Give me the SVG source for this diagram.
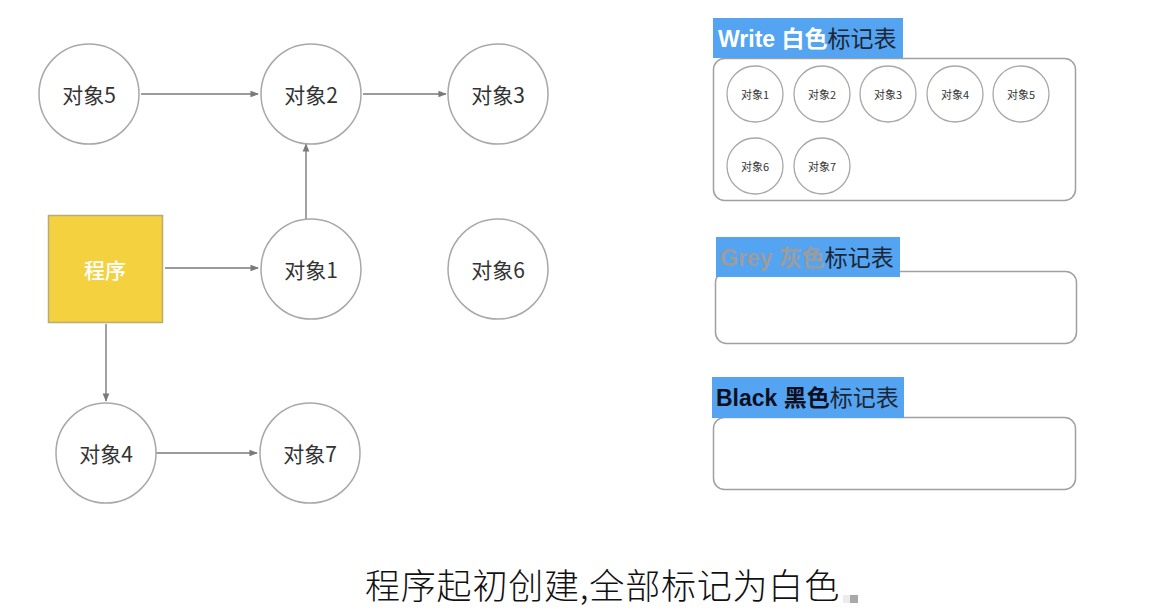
<svg xmlns="http://www.w3.org/2000/svg" width="1156" height="613" viewBox="0 0 1156 613">
  <style>
    .node circle { fill: #ffffff; stroke: #a8a8a8; stroke-width: 1.5; }
    .lbl { font-family: "Noto Sans CJK SC", "Liberation Sans", sans-serif; font-size: 21px; fill: #333333; text-anchor: middle; dominant-baseline: central; }
    .small circle { fill: #ffffff; stroke: #a8a8a8; stroke-width: 1.3; }
    .slbl { font-family: "Noto Sans CJK SC", "Liberation Sans", sans-serif; font-size: 11px; fill: #333333; text-anchor: middle; dominant-baseline: central; }
    .edge { stroke: #7a7a7a; stroke-width: 1.4; fill: none; marker-end: url(#arrow); }
    .table { fill: #ffffff; stroke: #a0a0a0; stroke-width: 1.5; }
    .tag { fill: #55a4f2; }
    .tagtxt { font-family: "Liberation Sans", "Noto Sans CJK SC", sans-serif; font-size: 23px; }
    .b { font-weight: bold; }
    .rest { fill: #1c2635; font-family: "Noto Sans CJK SC", sans-serif; font-weight: normal; }
  </style>
  <defs>
    <marker id="arrow" viewBox="0 0 10 10" refX="9" refY="5" markerWidth="6" markerHeight="6" orient="auto">
      <path d="M0,1 L10,5 L0,9 z" fill="#7a7a7a"/>
    </marker>
  </defs>

  <rect width="1156" height="613" fill="#ffffff"/>

  <!-- connectors -->
  <g id="edges">
    <line class="edge" x1="141" y1="94" x2="258" y2="94"/>
    <line class="edge" x1="363" y1="94" x2="446" y2="94"/>
    <line class="edge" x1="306" y1="219" x2="306" y2="144"/>
    <line class="edge" x1="165" y1="268" x2="258" y2="268"/>
    <line class="edge" x1="106" y1="324" x2="106" y2="401"/>
    <line class="edge" x1="156" y1="453" x2="257" y2="453"/>
  </g>

  <!-- program root -->
  <g id="program">
    <rect x="48.5" y="215.5" width="114" height="107" fill="#f3d13f" stroke="#b9ab72" stroke-width="1.5"/>
    <text x="105" y="269" font-family="Noto Sans CJK SC, sans-serif" font-size="21" font-weight="500" fill="#ffffff" text-anchor="middle" dominant-baseline="central">程序</text>
  </g>

  <!-- objects -->
  <g id="obj5" class="node"><circle cx="89" cy="94" r="50"/><text class="lbl" x="89" y="94">对象5</text></g>
  <g id="obj2" class="node"><circle cx="311" cy="94" r="50"/><text class="lbl" x="311" y="94">对象2</text></g>
  <g id="obj3" class="node"><circle cx="498" cy="94" r="50"/><text class="lbl" x="498" y="94">对象3</text></g>
  <g id="obj1" class="node"><circle cx="311" cy="269" r="50"/><text class="lbl" x="311" y="269">对象1</text></g>
  <g id="obj6" class="node"><circle cx="498" cy="269" r="50"/><text class="lbl" x="498" y="269">对象6</text></g>
  <g id="obj4" class="node"><circle cx="106" cy="453" r="50"/><text class="lbl" x="106" y="453">对象4</text></g>
  <g id="obj7" class="node"><circle cx="310" cy="453" r="50"/><text class="lbl" x="310" y="453">对象7</text></g>

  <!-- white table -->
  <g id="white-table">
    <rect class="table" x="713.5" y="58.5" width="362" height="142" rx="11"/>
    <rect class="tag" x="713" y="18" width="190" height="40"/>
    <text class="tagtxt" x="718" y="47"><tspan class="b" fill="#ffffff">Write 白色</tspan><tspan class="rest">标记表</tspan></text>
    <g class="small">
      <circle cx="755" cy="94" r="28"/><text class="slbl" x="755" y="94">对象1</text>
      <circle cx="822" cy="94" r="28"/><text class="slbl" x="822" y="94">对象2</text>
      <circle cx="888" cy="94" r="28"/><text class="slbl" x="888" y="94">对象3</text>
      <circle cx="955" cy="94" r="28"/><text class="slbl" x="955" y="94">对象4</text>
      <circle cx="1021" cy="94" r="28"/><text class="slbl" x="1021" y="94">对象5</text>
      <circle cx="755" cy="166" r="28"/><text class="slbl" x="755" y="166">对象6</text>
      <circle cx="822" cy="166" r="28"/><text class="slbl" x="822" y="166">对象7</text>
    </g>
  </g>

  <!-- grey table -->
  <g id="grey-table">
    <rect class="table" x="715.5" y="271.5" width="361" height="72" rx="11"/>
    <rect class="tag" x="716" y="237" width="184" height="40"/>
    <text class="tagtxt" x="720" y="266"><tspan class="b" fill="#9c9c9c">Grey 灰色</tspan><tspan class="rest">标记表</tspan></text>
  </g>

  <!-- black table -->
  <g id="black-table">
    <rect class="table" x="713.5" y="417.5" width="362" height="72" rx="11"/>
    <rect class="tag" x="712" y="377" width="192" height="41"/>
    <text class="tagtxt" x="716" y="406"><tspan class="b" fill="#0c0f1e">Black 黑色</tspan><tspan class="rest">标记表</tspan></text>
  </g>

  <!-- caption -->
  <g id="caption">
    <text x="365" y="599" font-family="Noto Sans CJK SC, sans-serif" font-size="35" font-weight="300" letter-spacing="0.8" fill="#111111">程序起初创建,全部标记为白色</text>
    <rect x="843" y="595" width="7" height="8" fill="#ececec"/>
    <rect x="850" y="595" width="8" height="8" fill="#a9a9a9"/>
  </g>
</svg>
